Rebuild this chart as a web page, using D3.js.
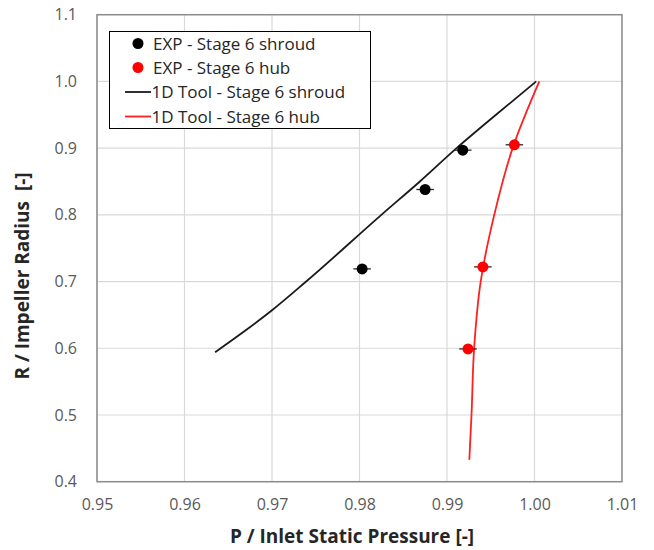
<!DOCTYPE html>
<html>
<head>
<meta charset="utf-8">
<script src="https://cdn.jsdelivr.net/npm/d3@7"></script>
<style>
  body { margin: 0; background: #fff; }
  text { font-family: "Open Sans", sans-serif; }
</style>
</head>
<body>
<div id="chart"></div>
<script>
var width = 654;
var height = 550;

// experimental points
var expShroudP = [0.9918, 0.9875, 0.9803];
var expShroudR = [0.897, 0.838, 0.719];
var expHubP = [0.9977, 0.9941, 0.9924];
var expHubR = [0.905, 0.722, 0.599];
var expErr = [0.001, 0.001, 0.001];

// 1D tool curves
var toolShroudP = [0.9635, 0.9668, 0.9700, 0.9739, 0.9825, 0.9869, 0.9911, 0.9956, 1.0002];
var toolShroudR = [0.594, 0.625, 0.657, 0.700, 0.800, 0.850, 0.900, 0.950, 1.000];
var toolHubP = [0.99255, 0.9928, 0.9931, 0.99385, 0.9954, 0.9975, 1.00055];
var toolHubR = [0.433, 0.500, 0.600, 0.700, 0.800, 0.900, 1.000];

var xTicks = [0.95, 0.96, 0.97, 0.98, 0.99, 1.00, 1.01];
var yTicks = [0.4, 0.5, 0.6, 0.7, 0.8, 0.9, 1.0, 1.1];

var legendLabels = ["EXP - Stage 6 shroud", "EXP - Stage 6 hub", "1D Tool - Stage 6 shroud", "1D Tool - Stage 6 hub"];

var plotL = 97, plotR = 622, plotT = 14.7, plotB = 481.7;

var xScale = d3.scaleLinear().domain([0.95, 1.01]).range([plotL, plotR]);
var yScale = d3.scaleLinear().domain([0.4, 1.1]).range([plotB, plotT]);

var svg = d3.select("#chart")
    .append("svg")
    .attr("width", width)
    .attr("height", height);

// gridlines
svg.append("g")
   .selectAll("line")
   .data(xTicks)
   .enter()
   .append("line")
   .attr("x1", function(d) { return xScale(d); })
   .attr("x2", function(d) { return xScale(d); })
   .attr("y1", plotT)
   .attr("y2", plotB)
   .attr("stroke", "#d9d9d9")
   .attr("stroke-width", 1.2);

svg.append("g")
   .selectAll("line")
   .data(yTicks)
   .enter()
   .append("line")
   .attr("x1", plotL)
   .attr("x2", plotR)
   .attr("y1", function(d) { return yScale(d); })
   .attr("y2", function(d) { return yScale(d); })
   .attr("stroke", "#d9d9d9")
   .attr("stroke-width", 1.2);

// plot border
svg.append("rect")
   .attr("x", plotL)
   .attr("y", plotT)
   .attr("width", plotR - plotL)
   .attr("height", plotB - plotT)
   .attr("fill", "none")
   .attr("stroke", "#8c8c8c")
   .attr("stroke-width", 1.5);

// axes (labels only)
var xAxis = d3.axisBottom(xScale).tickValues(xTicks).tickSize(0).tickPadding(17)
    .tickFormat(d3.format(".2f"));
var yAxis = d3.axisLeft(yScale).tickValues(yTicks).tickSize(0).tickPadding(20)
    .tickFormat(d3.format(".1f"));

var gx = svg.append("g")
   .attr("transform", "translate(0," + plotB + ")")
   .call(xAxis);
var gy = svg.append("g")
   .attr("transform", "translate(" + plotL + ",0)")
   .call(yAxis);

[gx, gy].forEach(function(g) {
  g.select(".domain").remove();
  g.selectAll("text")
   .style("font-family", "'Open Sans', sans-serif")
   .style("font-size", "16px")
   .attr("fill", "#595959");
});

// axis titles
svg.append("text")
   .attr("x", 352)
   .attr("y", 543)
   .attr("text-anchor", "middle")
   .style("font-size", "19px")
   .style("font-weight", "bold")
   .attr("fill", "#262626")
   .text("P / Inlet Static Pressure [-]");

svg.append("text")
   .attr("transform", "translate(29,276) rotate(-90)")
   .attr("text-anchor", "middle")
   .style("font-size", "19px")
   .style("font-weight", "bold")
   .attr("fill", "#262626")
   .style("white-space", "pre")
   .text("R / Impeller Radius  [-]");

// 1D tool lines
var line = d3.line()
   .x(function(d) { return xScale(d[0]); })
   .y(function(d) { return yScale(d[1]); })
   .curve(d3.curveMonotoneY);

svg.append("path")
   .datum(d3.zip(toolShroudP, toolShroudR))
   .attr("d", line)
   .attr("fill", "none")
   .attr("stroke", "#1a1a1a")
   .attr("stroke-width", 1.8);

svg.append("path")
   .datum(d3.zip(toolHubP, toolHubR))
   .attr("d", line)
   .attr("fill", "none")
   .attr("stroke", "#ff2020")
   .attr("stroke-width", 1.8);

// experimental points with error bars
function drawExp(ps, rs, color) {
  var data = d3.zip(ps, rs, expErr);
  svg.append("g")
     .selectAll("line")
     .data(data)
     .enter()
     .append("line")
     .attr("x1", function(d) { return xScale(d[0] - d[2]); })
     .attr("x2", function(d) { return xScale(d[0] + d[2]); })
     .attr("y1", function(d) { return yScale(d[1]); })
     .attr("y2", function(d) { return yScale(d[1]); })
     .attr("stroke", "#262626")
     .attr("stroke-width", 1.3);
  svg.append("g")
     .selectAll("circle")
     .data(data)
     .enter()
     .append("circle")
     .attr("cx", function(d) { return xScale(d[0]); })
     .attr("cy", function(d) { return yScale(d[1]); })
     .attr("r", 5.5)
     .attr("fill", color);
}
drawExp(expShroudP, expShroudR, "#000");
drawExp(expHubP, expHubR, "#ff0000");

// legend
var legend = svg.append("g");
legend.append("rect")
   .attr("x", 109.5)
   .attr("y", 31.5)
   .attr("width", 261)
   .attr("height", 97)
   .attr("fill", "#fff")
   .attr("stroke", "#000")
   .attr("stroke-width", 1);

var rowY = [43.5, 67.5, 92, 116.5];
var legendColors = ["#000", "#ff0000", "#1a1a1a", "#ff2020"];

legendLabels.forEach(function(label, i) {
  if (i < 2) {
    legend.append("circle")
       .attr("cx", 138)
       .attr("cy", rowY[i])
       .attr("r", 5.5)
       .attr("fill", legendColors[i]);
  } else {
    legend.append("line")
       .attr("x1", 125)
       .attr("x2", 151)
       .attr("y1", rowY[i])
       .attr("y2", rowY[i])
       .attr("stroke", legendColors[i])
       .attr("stroke-width", 1.8);
  }
  legend.append("text")
     .attr("x", i < 2 ? 153 : 151.5)
     .attr("y", rowY[i])
     .attr("dy", "0.36em")
     .style("font-size", "17px")
     .attr("fill", "#262626")
     .text(label);
});
</script>
</body>
</html>
